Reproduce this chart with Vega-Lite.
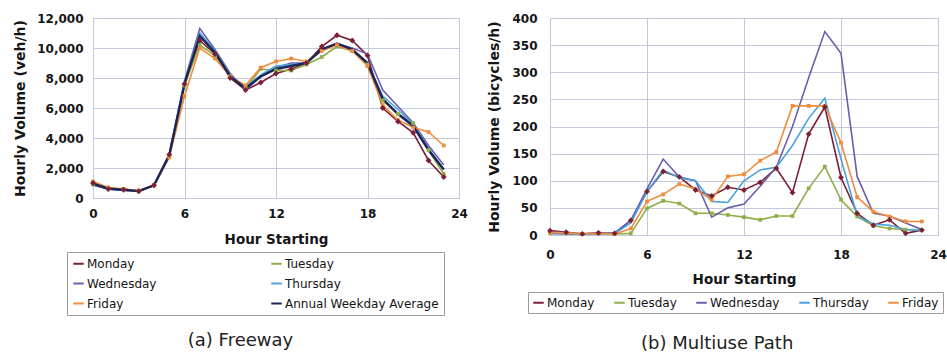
{
  "$schema": "https://vega.github.io/schema/vega-lite/v6.json",
  "background": "white",
  "padding": {"left": 13, "top": 11, "right": 0, "bottom": 0},
  "spacing": 19,
  "config": {
    "font": "DejaVu Sans",
    "view": {"stroke": "#a0a0a8", "strokeWidth": 1},
    "axis": {
      "labelFont": "DejaVu Sans",
      "labelFontWeight": "bold",
      "labelFontSize": 12,
      "labelColor": "#151515",
      "labelFlush": false,
      "labelOverlap": false,
      "titleFont": "DejaVu Sans",
      "titleFontWeight": "bold",
      "titleFontSize": 12,
      "titleColor": "#151515",
      "gridColor": "#c4c8dc",
      "gridOpacity": 1,
      "gridWidth": 1,
      "domain": false,
      "ticks": false
    },
    "legend": {
      "labelFont": "DejaVu Sans",
      "labelFontSize": 12,
      "labelColor": "#151515",
      "symbolType": "stroke",
      "symbolSize": 110,
      "symbolStrokeWidth": 2,
      "labelOffset": 2,
      "strokeColor": "#9a9a9a",
      "fillColor": "white"
    },
    "title": {"font": "DejaVu Sans", "fontWeight": "normal", "fontSize": 18, "color": "#222222", "frame": "bounds", "anchor": "middle"}
  },
  "datasets": {
    "freeway": [
      {"day": "Monday", "hour": 0, "volume": 1000}, {"day": "Monday", "hour": 1, "volume": 600}, {"day": "Monday", "hour": 2, "volume": 550}, {"day": "Monday", "hour": 3, "volume": 450},
      {"day": "Monday", "hour": 4, "volume": 850}, {"day": "Monday", "hour": 5, "volume": 2900}, {"day": "Monday", "hour": 6, "volume": 7600}, {"day": "Monday", "hour": 7, "volume": 10500},
      {"day": "Monday", "hour": 8, "volume": 9600}, {"day": "Monday", "hour": 9, "volume": 8000}, {"day": "Monday", "hour": 10, "volume": 7200}, {"day": "Monday", "hour": 11, "volume": 7700},
      {"day": "Monday", "hour": 12, "volume": 8300}, {"day": "Monday", "hour": 13, "volume": 8600}, {"day": "Monday", "hour": 14, "volume": 9000}, {"day": "Monday", "hour": 15, "volume": 10100},
      {"day": "Monday", "hour": 16, "volume": 10850}, {"day": "Monday", "hour": 17, "volume": 10500}, {"day": "Monday", "hour": 18, "volume": 9500}, {"day": "Monday", "hour": 19, "volume": 6000},
      {"day": "Monday", "hour": 20, "volume": 5100}, {"day": "Monday", "hour": 21, "volume": 4350}, {"day": "Monday", "hour": 22, "volume": 2500}, {"day": "Monday", "hour": 23, "volume": 1400},

      {"day": "Tuesday", "hour": 0, "volume": 900}, {"day": "Tuesday", "hour": 1, "volume": 650}, {"day": "Tuesday", "hour": 2, "volume": 600}, {"day": "Tuesday", "hour": 3, "volume": 450},
      {"day": "Tuesday", "hour": 4, "volume": 850}, {"day": "Tuesday", "hour": 5, "volume": 2800}, {"day": "Tuesday", "hour": 6, "volume": 7500}, {"day": "Tuesday", "hour": 7, "volume": 10200},
      {"day": "Tuesday", "hour": 8, "volume": 9500}, {"day": "Tuesday", "hour": 9, "volume": 8100}, {"day": "Tuesday", "hour": 10, "volume": 7300}, {"day": "Tuesday", "hour": 11, "volume": 8600},
      {"day": "Tuesday", "hour": 12, "volume": 8500}, {"day": "Tuesday", "hour": 13, "volume": 8500}, {"day": "Tuesday", "hour": 14, "volume": 8900}, {"day": "Tuesday", "hour": 15, "volume": 9400},
      {"day": "Tuesday", "hour": 16, "volume": 10100}, {"day": "Tuesday", "hour": 17, "volume": 9800}, {"day": "Tuesday", "hour": 18, "volume": 8900}, {"day": "Tuesday", "hour": 19, "volume": 6500},
      {"day": "Tuesday", "hour": 20, "volume": 5600}, {"day": "Tuesday", "hour": 21, "volume": 5000}, {"day": "Tuesday", "hour": 22, "volume": 3200}, {"day": "Tuesday", "hour": 23, "volume": 1600},

      {"day": "Wednesday", "hour": 0, "volume": 850}, {"day": "Wednesday", "hour": 1, "volume": 600}, {"day": "Wednesday", "hour": 2, "volume": 500}, {"day": "Wednesday", "hour": 3, "volume": 450},
      {"day": "Wednesday", "hour": 4, "volume": 850}, {"day": "Wednesday", "hour": 5, "volume": 2900}, {"day": "Wednesday", "hour": 6, "volume": 7800}, {"day": "Wednesday", "hour": 7, "volume": 11300},
      {"day": "Wednesday", "hour": 8, "volume": 9900}, {"day": "Wednesday", "hour": 9, "volume": 8300}, {"day": "Wednesday", "hour": 10, "volume": 7200}, {"day": "Wednesday", "hour": 11, "volume": 8100},
      {"day": "Wednesday", "hour": 12, "volume": 8700}, {"day": "Wednesday", "hour": 13, "volume": 9000}, {"day": "Wednesday", "hour": 14, "volume": 9000}, {"day": "Wednesday", "hour": 15, "volume": 9900},
      {"day": "Wednesday", "hour": 16, "volume": 10300}, {"day": "Wednesday", "hour": 17, "volume": 10000}, {"day": "Wednesday", "hour": 18, "volume": 9600}, {"day": "Wednesday", "hour": 19, "volume": 7200},
      {"day": "Wednesday", "hour": 20, "volume": 6100}, {"day": "Wednesday", "hour": 21, "volume": 5000}, {"day": "Wednesday", "hour": 22, "volume": 3500}, {"day": "Wednesday", "hour": 23, "volume": 2200},

      {"day": "Thursday", "hour": 0, "volume": 900}, {"day": "Thursday", "hour": 1, "volume": 600}, {"day": "Thursday", "hour": 2, "volume": 550}, {"day": "Thursday", "hour": 3, "volume": 450},
      {"day": "Thursday", "hour": 4, "volume": 850}, {"day": "Thursday", "hour": 5, "volume": 2900}, {"day": "Thursday", "hour": 6, "volume": 7700}, {"day": "Thursday", "hour": 7, "volume": 11000},
      {"day": "Thursday", "hour": 8, "volume": 9800}, {"day": "Thursday", "hour": 9, "volume": 8200}, {"day": "Thursday", "hour": 10, "volume": 7400}, {"day": "Thursday", "hour": 11, "volume": 8200},
      {"day": "Thursday", "hour": 12, "volume": 8800}, {"day": "Thursday", "hour": 13, "volume": 8900}, {"day": "Thursday", "hour": 14, "volume": 9000}, {"day": "Thursday", "hour": 15, "volume": 9900},
      {"day": "Thursday", "hour": 16, "volume": 10300}, {"day": "Thursday", "hour": 17, "volume": 9900}, {"day": "Thursday", "hour": 18, "volume": 9000}, {"day": "Thursday", "hour": 19, "volume": 6800},
      {"day": "Thursday", "hour": 20, "volume": 5900}, {"day": "Thursday", "hour": 21, "volume": 4900}, {"day": "Thursday", "hour": 22, "volume": 3300}, {"day": "Thursday", "hour": 23, "volume": 1900},

      {"day": "Friday", "hour": 0, "volume": 1100}, {"day": "Friday", "hour": 1, "volume": 700}, {"day": "Friday", "hour": 2, "volume": 600}, {"day": "Friday", "hour": 3, "volume": 500},
      {"day": "Friday", "hour": 4, "volume": 850}, {"day": "Friday", "hour": 5, "volume": 2700}, {"day": "Friday", "hour": 6, "volume": 6800}, {"day": "Friday", "hour": 7, "volume": 10000},
      {"day": "Friday", "hour": 8, "volume": 9300}, {"day": "Friday", "hour": 9, "volume": 8100}, {"day": "Friday", "hour": 10, "volume": 7500}, {"day": "Friday", "hour": 11, "volume": 8700},
      {"day": "Friday", "hour": 12, "volume": 9100}, {"day": "Friday", "hour": 13, "volume": 9300}, {"day": "Friday", "hour": 14, "volume": 9100}, {"day": "Friday", "hour": 15, "volume": 9800},
      {"day": "Friday", "hour": 16, "volume": 10200}, {"day": "Friday", "hour": 17, "volume": 9800}, {"day": "Friday", "hour": 18, "volume": 8800}, {"day": "Friday", "hour": 19, "volume": 6200},
      {"day": "Friday", "hour": 20, "volume": 5200}, {"day": "Friday", "hour": 21, "volume": 4700}, {"day": "Friday", "hour": 22, "volume": 4400}, {"day": "Friday", "hour": 23, "volume": 3500},

      {"day": "Annual Weekday Average", "hour": 0, "volume": 950}, {"day": "Annual Weekday Average", "hour": 1, "volume": 620}, {"day": "Annual Weekday Average", "hour": 2, "volume": 550}, {"day": "Annual Weekday Average", "hour": 3, "volume": 460},
      {"day": "Annual Weekday Average", "hour": 4, "volume": 850}, {"day": "Annual Weekday Average", "hour": 5, "volume": 2850}, {"day": "Annual Weekday Average", "hour": 6, "volume": 7600}, {"day": "Annual Weekday Average", "hour": 7, "volume": 10800},
      {"day": "Annual Weekday Average", "hour": 8, "volume": 9700}, {"day": "Annual Weekday Average", "hour": 9, "volume": 8100}, {"day": "Annual Weekday Average", "hour": 10, "volume": 7300}, {"day": "Annual Weekday Average", "hour": 11, "volume": 8100},
      {"day": "Annual Weekday Average", "hour": 12, "volume": 8600}, {"day": "Annual Weekday Average", "hour": 13, "volume": 8800}, {"day": "Annual Weekday Average", "hour": 14, "volume": 9000}, {"day": "Annual Weekday Average", "hour": 15, "volume": 9900},
      {"day": "Annual Weekday Average", "hour": 16, "volume": 10300}, {"day": "Annual Weekday Average", "hour": 17, "volume": 9900}, {"day": "Annual Weekday Average", "hour": 18, "volume": 9000}, {"day": "Annual Weekday Average", "hour": 19, "volume": 6600},
      {"day": "Annual Weekday Average", "hour": 20, "volume": 5600}, {"day": "Annual Weekday Average", "hour": 21, "volume": 4800}, {"day": "Annual Weekday Average", "hour": 22, "volume": 3200}, {"day": "Annual Weekday Average", "hour": 23, "volume": 1900}
    ],
    "path": [
      {"day": "Monday", "hour": 0, "volume": 8}, {"day": "Monday", "hour": 1, "volume": 5}, {"day": "Monday", "hour": 2, "volume": 2}, {"day": "Monday", "hour": 3, "volume": 4},
      {"day": "Monday", "hour": 4, "volume": 3}, {"day": "Monday", "hour": 5, "volume": 27}, {"day": "Monday", "hour": 6, "volume": 80}, {"day": "Monday", "hour": 7, "volume": 117},
      {"day": "Monday", "hour": 8, "volume": 107}, {"day": "Monday", "hour": 9, "volume": 83}, {"day": "Monday", "hour": 10, "volume": 72}, {"day": "Monday", "hour": 11, "volume": 88},
      {"day": "Monday", "hour": 12, "volume": 83}, {"day": "Monday", "hour": 13, "volume": 97}, {"day": "Monday", "hour": 14, "volume": 123}, {"day": "Monday", "hour": 15, "volume": 78},
      {"day": "Monday", "hour": 16, "volume": 186}, {"day": "Monday", "hour": 17, "volume": 236}, {"day": "Monday", "hour": 18, "volume": 106}, {"day": "Monday", "hour": 19, "volume": 40},
      {"day": "Monday", "hour": 20, "volume": 18}, {"day": "Monday", "hour": 21, "volume": 28}, {"day": "Monday", "hour": 22, "volume": 3}, {"day": "Monday", "hour": 23, "volume": 9},

      {"day": "Tuesday", "hour": 0, "volume": 3}, {"day": "Tuesday", "hour": 1, "volume": 3}, {"day": "Tuesday", "hour": 2, "volume": 2}, {"day": "Tuesday", "hour": 3, "volume": 3},
      {"day": "Tuesday", "hour": 4, "volume": 2}, {"day": "Tuesday", "hour": 5, "volume": 3}, {"day": "Tuesday", "hour": 6, "volume": 49}, {"day": "Tuesday", "hour": 7, "volume": 63},
      {"day": "Tuesday", "hour": 8, "volume": 58}, {"day": "Tuesday", "hour": 9, "volume": 40}, {"day": "Tuesday", "hour": 10, "volume": 40}, {"day": "Tuesday", "hour": 11, "volume": 37},
      {"day": "Tuesday", "hour": 12, "volume": 33}, {"day": "Tuesday", "hour": 13, "volume": 28}, {"day": "Tuesday", "hour": 14, "volume": 35}, {"day": "Tuesday", "hour": 15, "volume": 35},
      {"day": "Tuesday", "hour": 16, "volume": 86}, {"day": "Tuesday", "hour": 17, "volume": 126}, {"day": "Tuesday", "hour": 18, "volume": 65}, {"day": "Tuesday", "hour": 19, "volume": 34},
      {"day": "Tuesday", "hour": 20, "volume": 17}, {"day": "Tuesday", "hour": 21, "volume": 12}, {"day": "Tuesday", "hour": 22, "volume": 10}, {"day": "Tuesday", "hour": 23, "volume": 9},

      {"day": "Wednesday", "hour": 0, "volume": 3}, {"day": "Wednesday", "hour": 1, "volume": 2}, {"day": "Wednesday", "hour": 2, "volume": 1}, {"day": "Wednesday", "hour": 3, "volume": 3},
      {"day": "Wednesday", "hour": 4, "volume": 4}, {"day": "Wednesday", "hour": 5, "volume": 27}, {"day": "Wednesday", "hour": 6, "volume": 85}, {"day": "Wednesday", "hour": 7, "volume": 140},
      {"day": "Wednesday", "hour": 8, "volume": 107}, {"day": "Wednesday", "hour": 9, "volume": 100}, {"day": "Wednesday", "hour": 10, "volume": 33}, {"day": "Wednesday", "hour": 11, "volume": 50},
      {"day": "Wednesday", "hour": 12, "volume": 57}, {"day": "Wednesday", "hour": 13, "volume": 90}, {"day": "Wednesday", "hour": 14, "volume": 125}, {"day": "Wednesday", "hour": 15, "volume": 200},
      {"day": "Wednesday", "hour": 16, "volume": 290}, {"day": "Wednesday", "hour": 17, "volume": 375}, {"day": "Wednesday", "hour": 18, "volume": 335}, {"day": "Wednesday", "hour": 19, "volume": 108},
      {"day": "Wednesday", "hour": 20, "volume": 40}, {"day": "Wednesday", "hour": 21, "volume": 35}, {"day": "Wednesday", "hour": 22, "volume": 22}, {"day": "Wednesday", "hour": 23, "volume": 10},

      {"day": "Thursday", "hour": 0, "volume": 4}, {"day": "Thursday", "hour": 1, "volume": 3}, {"day": "Thursday", "hour": 2, "volume": 1}, {"day": "Thursday", "hour": 3, "volume": 2},
      {"day": "Thursday", "hour": 4, "volume": 3}, {"day": "Thursday", "hour": 5, "volume": 22}, {"day": "Thursday", "hour": 6, "volume": 80}, {"day": "Thursday", "hour": 7, "volume": 120},
      {"day": "Thursday", "hour": 8, "volume": 105}, {"day": "Thursday", "hour": 9, "volume": 100}, {"day": "Thursday", "hour": 10, "volume": 62}, {"day": "Thursday", "hour": 11, "volume": 60},
      {"day": "Thursday", "hour": 12, "volume": 100}, {"day": "Thursday", "hour": 13, "volume": 120}, {"day": "Thursday", "hour": 14, "volume": 125}, {"day": "Thursday", "hour": 15, "volume": 165},
      {"day": "Thursday", "hour": 16, "volume": 215}, {"day": "Thursday", "hour": 17, "volume": 252}, {"day": "Thursday", "hour": 18, "volume": 140}, {"day": "Thursday", "hour": 19, "volume": 35},
      {"day": "Thursday", "hour": 20, "volume": 20}, {"day": "Thursday", "hour": 21, "volume": 18}, {"day": "Thursday", "hour": 22, "volume": 10}, {"day": "Thursday", "hour": 23, "volume": 8},

      {"day": "Friday", "hour": 0, "volume": 5}, {"day": "Friday", "hour": 1, "volume": 4}, {"day": "Friday", "hour": 2, "volume": 2}, {"day": "Friday", "hour": 3, "volume": 3},
      {"day": "Friday", "hour": 4, "volume": 2}, {"day": "Friday", "hour": 5, "volume": 12}, {"day": "Friday", "hour": 6, "volume": 62}, {"day": "Friday", "hour": 7, "volume": 75},
      {"day": "Friday", "hour": 8, "volume": 94}, {"day": "Friday", "hour": 9, "volume": 85}, {"day": "Friday", "hour": 10, "volume": 65}, {"day": "Friday", "hour": 11, "volume": 108},
      {"day": "Friday", "hour": 12, "volume": 112}, {"day": "Friday", "hour": 13, "volume": 137}, {"day": "Friday", "hour": 14, "volume": 153}, {"day": "Friday", "hour": 15, "volume": 238},
      {"day": "Friday", "hour": 16, "volume": 238}, {"day": "Friday", "hour": 17, "volume": 238}, {"day": "Friday", "hour": 18, "volume": 170}, {"day": "Friday", "hour": 19, "volume": 70},
      {"day": "Friday", "hour": 20, "volume": 43}, {"day": "Friday", "hour": 21, "volume": 34}, {"day": "Friday", "hour": 22, "volume": 25}, {"day": "Friday", "hour": 23, "volume": 25}
    ]
  },
  "hconcat": [
    {
      "width": 366,
      "height": 180,
      "title": {"text": "(a) Freeway", "orient": "bottom", "offset": 16},
      "data": {"name": "freeway"},
      "encoding": {
        "x": {
          "field": "hour", "type": "quantitative",
          "scale": {"domain": [0, 24], "nice": false, "zero": false},
          "axis": {"values": [0, 6, 12, 18, 24], "title": "Hour Starting", "titleFontSize": 13.5, "labelPadding": 10, "titlePadding": 13}
        },
        "y": {
          "field": "volume", "type": "quantitative",
          "scale": {"domain": [0, 12000], "nice": false},
          "axis": {"values": [0, 2000, 4000, 6000, 8000, 10000, 12000], "format": ",d", "title": "Hourly Volume (veh/h)", "titleFontSize": 14, "labelPadding": 10, "titlePadding": 9}
        },
        "color": {
          "field": "day", "type": "nominal",
          "scale": {
            "domain": ["Monday", "Tuesday", "Wednesday", "Thursday", "Friday", "Annual Weekday Average"],
            "range": ["#7a1f35", "#8fae48", "#6a5fae", "#4aa3dc", "#f08c3c", "#1f2456"]
          },
          "legend": {
            "title": null, "orient": "none", "legendX": -26, "legendY": 234,
            "direction": "horizontal", "columns": 2,
            "padding": 5, "rowPadding": 7, "columnPadding": 110
          }
        }
      },
      "layer": [
        {
          "transform": [{"filter": "datum.day !== 'Annual Weekday Average'"}],
          "mark": {"type": "line", "strokeWidth": 1.6}
        },
        {
          "transform": [{"filter": "datum.day === 'Annual Weekday Average'"}],
          "mark": {"type": "line", "strokeWidth": 2.4}
        },
        {
          "transform": [{"filter": "datum.day === 'Tuesday' || datum.day === 'Friday'"}],
          "mark": {"type": "point", "shape": "square", "filled": true, "size": 14, "opacity": 1}
        },
        {
          "transform": [{"filter": "datum.day === 'Monday'"}],
          "mark": {"type": "point", "shape": "diamond", "filled": true, "size": 34, "opacity": 1}
        }
      ]
    },
    {
      "width": 388,
      "height": 217,
      "title": {"text": "(b) Multiuse Path", "orient": "bottom", "offset": 21},
      "data": {"name": "path"},
      "encoding": {
        "x": {
          "field": "hour", "type": "quantitative",
          "scale": {"domain": [0, 24], "nice": false, "zero": false},
          "axis": {"values": [0, 6, 12, 18, 24], "title": "Hour Starting", "titleFontSize": 13.5, "labelPadding": 14, "titlePadding": 12}
        },
        "y": {
          "field": "volume", "type": "quantitative",
          "scale": {"domain": [0, 400], "nice": false},
          "axis": {"values": [0, 50, 100, 150, 200, 250, 300, 350, 400], "title": "Hourly Volume (bicycles/h)", "titleFontSize": 14, "labelPadding": 13, "titlePadding": 10}
        },
        "color": {
          "field": "day", "type": "nominal",
          "scale": {
            "domain": ["Monday", "Tuesday", "Wednesday", "Thursday", "Friday"],
            "range": ["#7a1f35", "#8fae48", "#6a5fae", "#4aa3dc", "#f08c3c"]
          },
          "legend": {
            "title": null, "orient": "none", "legendX": -22, "legendY": 274,
            "direction": "horizontal", "columns": 5,
            "padding": 4, "columnPadding": 15
          }
        }
      },
      "layer": [
        {
          "mark": {"type": "line", "strokeWidth": 1.6}
        },
        {
          "transform": [{"filter": "datum.day === 'Tuesday' || datum.day === 'Friday'"}],
          "mark": {"type": "point", "shape": "square", "filled": true, "size": 14, "opacity": 1}
        },
        {
          "transform": [{"filter": "datum.day === 'Monday'"}],
          "mark": {"type": "point", "shape": "diamond", "filled": true, "size": 34, "opacity": 1}
        }
      ]
    }
  ],
  "resolve": {
    "scale": {"color": "independent", "x": "independent", "y": "independent"},
    "legend": {"color": "independent"}
  }
}
